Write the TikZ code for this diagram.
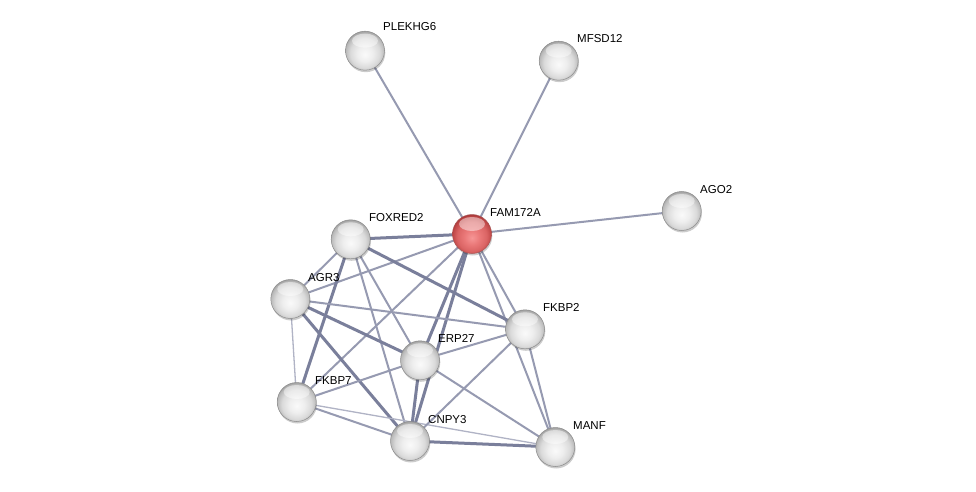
\documentclass[tikz,border=0pt]{standalone}
\usepackage{fontspec}
\setmainfont{Liberation Sans}
\usetikzlibrary{shadows}
\pgfdeclarelayer{bg}
\pgfsetlayers{bg,main}
\definecolor{sphA}{RGB}{250,250,250}
\definecolor{sphB}{RGB}{238,238,238}
\definecolor{sphC}{RGB}{218,218,218}
\definecolor{sphD}{RGB}{185,185,185}
\definecolor{sphE}{RGB}{140,140,140}
\definecolor{redA}{RGB}{246,150,150}
\definecolor{redB}{RGB}{234,120,120}
\definecolor{redC}{RGB}{218,100,100}
\definecolor{redD}{RGB}{190,70,70}
\definecolor{redE}{RGB}{150,45,45}
\definecolor{edgeA}{RGB}{176,179,197}
\definecolor{edgeB}{RGB}{150,154,177}
\definecolor{edgeC}{RGB}{122,127,155}
\pgfdeclareradialshading{graysphere}{\pgfpoint{0bp}{-5bp}}{color(0bp)=(sphA); color(10bp)=(sphB); color(19bp)=(sphC); color(25bp)=(sphD); color(29bp)=(sphE); color(50bp)=(sphE)}
\pgfdeclareradialshading{redsphere}{\pgfpoint{0bp}{-5bp}}{color(0bp)=(redA); color(10bp)=(redB); color(19bp)=(redC); color(25bp)=(redD); color(29bp)=(redE); color(50bp)=(redE)}
\tikzset{
  ball/.style={circle, minimum size=39pt, inner sep=0pt, draw=black!45, line width=0.5pt,
    shading=graysphere,
    drop shadow={shadow xshift=0.8pt, shadow yshift=-2pt, opacity=0.2, fill=black},
    path picture={\fill[white, opacity=0.45] ([yshift=10pt]path picture bounding box.center) ellipse [x radius=13pt, y radius=7pt];}},
  redball/.style={ball, shading=redsphere, draw=redE!80},
  lbl/.style={anchor=base west, inner sep=0pt, font=\fontsize{11.5}{13}\selectfont, text=black},
  ethin/.style={draw=edgeA, line width=1.3pt},
  emed/.style={draw=edgeB, line width=2pt},
  ethick/.style={draw=edgeC, line width=3pt}
}
\begin{document}
\begin{tikzpicture}[x=1pt, y=-1pt]
\useasboundingbox (0,0) rectangle (976,492);
% nodes
\node[ball] (plek) at (365,50.7) {};
\node[ball] (mfsd) at (558.7,60.7) {};
\node[ball] (ago) at (681.7,211) {};
\node[redball] (fam) at (472,234) {};
\node[ball] (fox) at (350.7,239.3) {};
\node[ball] (agr) at (290.3,299) {};
\node[ball] (fkbp2) at (525,329.3) {};
\node[ball] (erp) at (420,360.3) {};
\node[ball] (fkbp7) at (296.7,402) {};
\node[ball] (cnpy) at (410,441) {};
\node[ball] (manf) at (555.3,447) {};
% labels
\node[lbl] (lplek) at (383,31) {PLEKHG6};
\node[lbl] (lmfsd) at (577,43) {MFSD12};
\node[lbl] (lago) at (700,193) {AGO2};
\node[lbl] (lfam) at (490,216) {FAM172A};
\node[lbl] (lfox) at (369,221) {FOXRED2};
\node[lbl] (lagr) at (308,281) {AGR3};
\node[lbl] (lfkbp2) at (543,311) {FKBP2};
\node[lbl] (lerp) at (438,342) {ERP27};
\node[lbl] (lfkbp7) at (315,384) {FKBP7};
\node[lbl] (lcnpy) at (428,423) {CNPY3};
\node[lbl] (lmanf) at (573,429) {MANF};
% edges
\begin{pgfonlayer}{bg}
\fill[white] (0,0) rectangle (976,492);
\draw[emed] (fam.center) -- (plek.center);
\draw[emed] (fam.center) -- (mfsd.center);
\draw[emed] (fam.center) -- (ago.center);
\draw[ethick] (fam.center) -- (fox.center);
\draw[emed] (fam.center) -- (agr.center);
\draw[emed] (fam.center) -- (fkbp7.center);
\draw[ethick] (fam.center) -- (erp.center);
\draw[ethick] (fam.center) -- (cnpy.center);
\draw[emed] (fam.center) -- (fkbp2.center);
\draw[emed] (fam.center) -- (manf.center);
\draw[emed] (fox.center) -- (agr.center);
\draw[ethick] (fox.center) -- (fkbp7.center);
\draw[emed] (fox.center) -- (erp.center);
\draw[emed] (fox.center) -- (cnpy.center);
\draw[ethick] (fox.center) -- (fkbp2.center);
\draw[emed] (agr.center) -- (fkbp2.center);
\draw[ethick] (agr.center) -- (erp.center);
\draw[ethick] (agr.center) -- (cnpy.center);
\draw[ethin] (agr.center) -- (fkbp7.center);
\draw[emed] (fkbp7.center) -- (erp.center);
\draw[emed] (fkbp7.center) -- (cnpy.center);
\draw[ethin] (fkbp7.center) -- (manf.center);
\draw[emed] (erp.center) -- (fkbp2.center);
\draw[ethick] (erp.center) -- (cnpy.center);
\draw[emed] (erp.center) -- (manf.center);
\draw[emed] (fkbp2.center) -- (cnpy.center);
\draw[ethick] (cnpy.center) -- (manf.center);
\draw[emed] (fkbp2.center) -- (manf.center);
\end{pgfonlayer}
\end{tikzpicture}
\end{document}
